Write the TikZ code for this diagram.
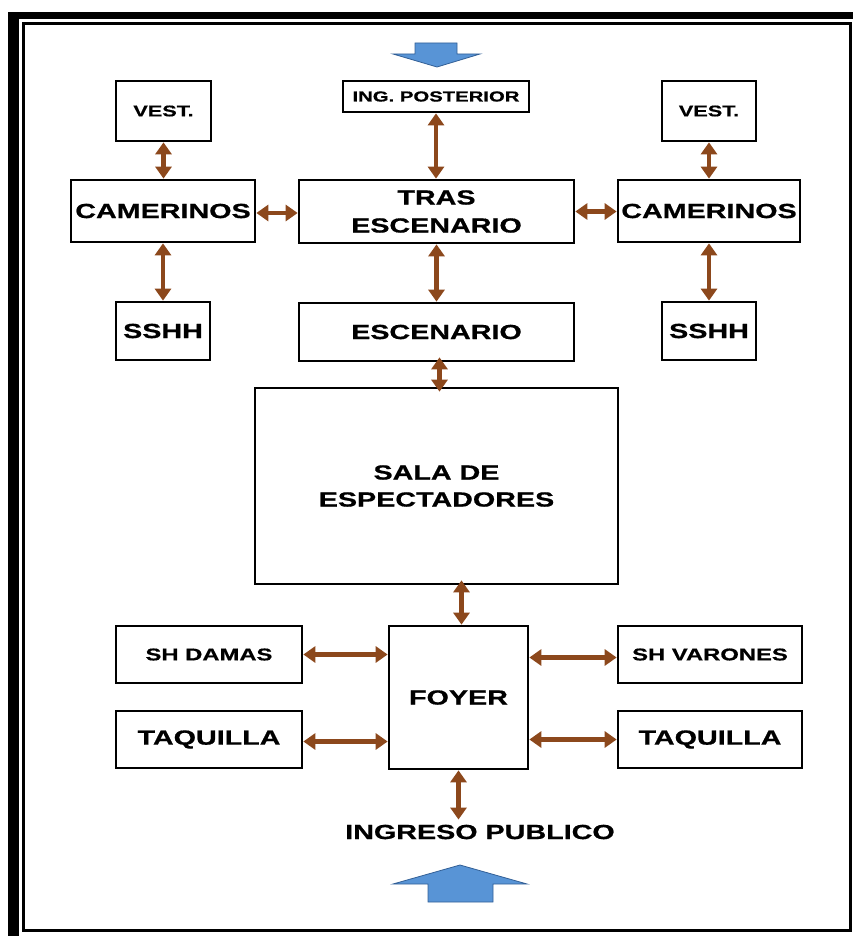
\documentclass[tikz,border=0pt]{standalone}
\usepackage{fontspec}
\setmainfont{Liberation Sans}[FakeStretch=1.4, BoldFeatures={FakeBold=0.7}]
\usetikzlibrary{arrows.meta}
\definecolor{arrbrown}{RGB}{140,72,28}
\definecolor{arrblue}{RGB}{88,148,214}
\definecolor{arrblueedge}{RGB}{50,95,150}
\tikzset{
  box/.style={draw=black, line width=2.7pt, fill=white, inner sep=0pt, align=center, font=\bfseries\fontsize{20.5}{28}\selectfont},
  smallbox/.style={box, font=\bfseries\fontsize{15.5}{20}\selectfont},
  ingbox/.style={box, font=\bfseries\fontsize{14.5}{20}\selectfont},
  midbox/.style={box, font=\bfseries\fontsize{17}{20}\selectfont},
  conn/.style={draw=arrbrown, line width=4.5pt, {Triangle[width=16pt,length=12pt]}-{Triangle[width=16pt,length=12pt]}},
  bigarrow/.style={fill=arrblue, draw=arrblueedge, line width=0.8pt, line join=miter},
}
\begin{document}
\begin{tikzpicture}[x=1pt,y=-1pt]
\useasboundingbox (0,0) rectangle (853,936);
% frame
\fill[black] (8,12) rectangle (19,936);
\fill[black] (8,12) rectangle (853,19);
\draw[line width=2.6pt] (23.5,23.5) rectangle (850.5,930.5);

% top blue arrow
\draw[bigarrow] (415,43) -- (457,43) -- (457,54) -- (480,54) -- (437,67) -- (393,54) -- (415,54) -- cycle;
% bottom blue arrow
\draw[bigarrow] (460,865) -- (527,884) -- (493,884) -- (493,902) -- (428,902) -- (428,884) -- (393,884) -- cycle;

% nodes
\node[smallbox, minimum width=95pt, minimum height=60pt] (vestL) at (163.5,111) {VEST.};
\node[smallbox, minimum width=94pt, minimum height=60pt] (vestR) at (709,111) {VEST.};
\node[ingbox, minimum width=186pt, minimum height=31pt] (ing) at (436,96.5) {ING. POSTERIOR};
\node[box, minimum width=184pt, minimum height=62pt] (camL) at (163,211) {CAMERINOS};
\node[box, minimum width=275pt, minimum height=63pt] (tras) at (436.5,211.5) {\raisebox{-3pt}{\parbox{260pt}{\centering TRAS\\ESCENARIO}}};
\node[box, minimum width=182pt, minimum height=62pt] (camR) at (709,211) {CAMERINOS};
\node[box, minimum width=94pt, minimum height=58pt] (sshhL) at (163,331) {SSHH};
\node[box, minimum width=275pt, minimum height=58pt] (esc) at (436.5,332) {ESCENARIO};
\node[box, minimum width=94pt, minimum height=58pt] (sshhR) at (709,331) {SSHH};
\node[box, minimum width=363pt, minimum height=196pt, font=\bfseries\fontsize{20.5}{27}\selectfont] (sala) at (436.5,486) {SALA DE\\ESPECTADORES};
\node[midbox, minimum width=186pt, minimum height=57pt] (damas) at (209,654.5) {SH DAMAS};
\node[box, minimum width=186pt, minimum height=57pt] (taqL) at (209,739.5) {TAQUILLA};
\node[box, minimum width=139pt, minimum height=143pt] (foyer) at (458.5,697.5) {FOYER};
\node[midbox, minimum width=184pt, minimum height=57pt] (varones) at (710,654.5) {SH VARONES};
\node[box, minimum width=184pt, minimum height=57pt] (taqR) at (710,739.5) {TAQUILLA};
\node[inner sep=0pt, font=\bfseries\fontsize{20.5}{24}\selectfont] (ingreso) at (480,832) {INGRESO PUBLICO};

% connectors
\draw[conn] (vestL.south) -- (camL.north -| vestL.south);
\draw[conn] (camL.south) -- (sshhL.north -| camL.south);
\draw[conn] ([yshift=-2pt]camL.east) -- ([yshift=-2pt]camL.east -| tras.west);
\draw[conn] (ing.south) -- (tras.north -| ing.south);
\draw[conn] (tras.south) -- (esc.north);
\draw[conn] (tras.east) -- (tras.east -| camR.west);
\draw[conn] (vestR.south) -- (camR.north -| vestR.south);
\draw[conn] (camR.south) -- (sshhR.north -| camR.south);
\draw[conn] ([xshift=3pt,yshift=5pt]esc.south) -- ([xshift=3pt,yshift=-5pt]esc.south |- sala.north);
\draw[conn] ([xshift=3pt]foyer.north) -- ([xshift=3pt,yshift=5pt]foyer.north |- sala.south);
\draw[conn] (damas.east) -- (damas.east -| foyer.west);
\draw[conn] ([yshift=-2pt]taqL.east) -- ([yshift=-2pt]taqL.east -| foyer.west);
\draw[conn] ([yshift=-3pt]varones.west -| foyer.east) -- ([yshift=-3pt]varones.west);
\draw[conn] (taqR.west -| foyer.east) -- (taqR.west);
\draw[conn] (foyer.south) -- ([yshift=5pt]ingreso.north -| foyer.south);
\end{tikzpicture}
\end{document}
